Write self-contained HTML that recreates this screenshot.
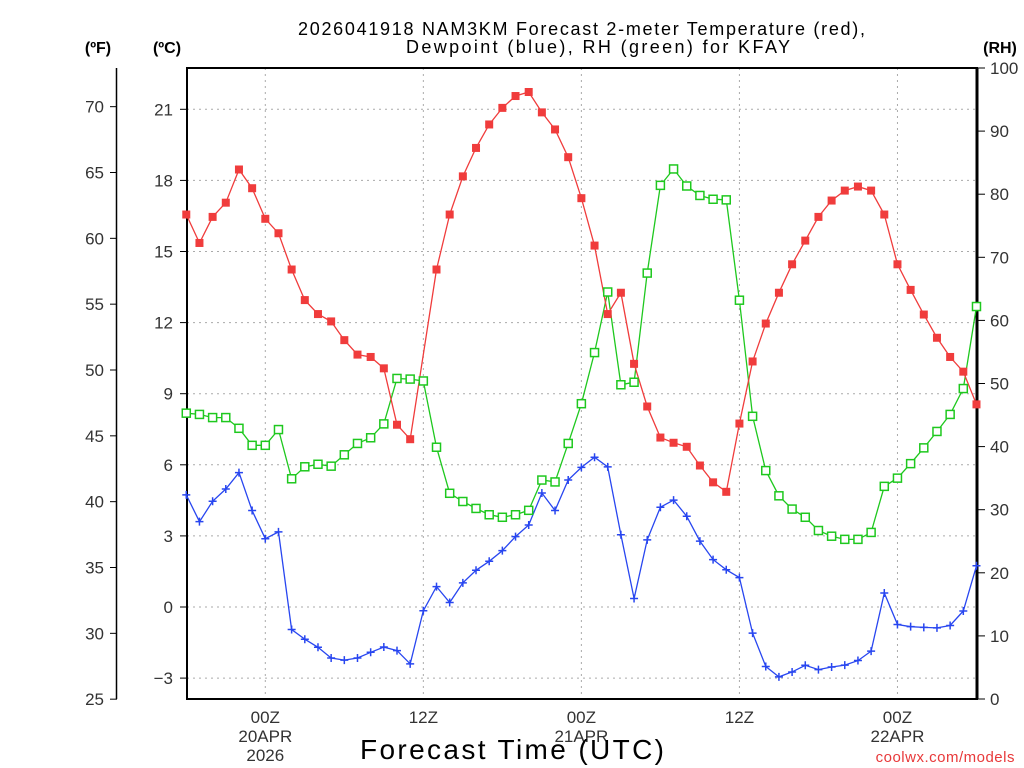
<!DOCTYPE html>
<html><head><meta charset="utf-8"><style>
html,body{margin:0;padding:0;background:#fff;}
svg{display:block;font-family:"Liberation Sans",sans-serif;}
</style></head><body>
<svg id="chart" width="1024" height="768" viewBox="0 0 1024 768" xmlns="http://www.w3.org/2000/svg">
<rect width="1024" height="768" fill="#fff"/>
<g id="grid"></g>
<g id="axes"></g>
<g id="series"></g>
<text x="298" y="35" font-size="18" textLength="567" lengthAdjust="spacing">2026041918 NAM3KM Forecast 2-meter Temperature (red),</text>
<text x="406" y="53" font-size="18" textLength="384" lengthAdjust="spacing">Dewpoint (blue), RH (green) for KFAY</text>
<text x="98" y="53" text-anchor="middle" font-size="16" font-weight="bold">(ºF)</text>
<text x="167" y="53" text-anchor="middle" font-size="16" font-weight="bold">(ºC)</text>
<text x="1000" y="53" text-anchor="middle" font-size="16" font-weight="bold">(RH)</text>
<text x="360" y="759" font-size="28" textLength="304" lengthAdjust="spacing">Forecast Time (UTC)</text>
<text x="1015" y="762" text-anchor="end" font-size="15" fill="#e8393a" letter-spacing="0.5">coolwx.com/models</text>
</svg>
<script>
const hours = [-6,-5,-4,-3,-2,-1,0,1,2,3,4,5,6,7,8,9,10,11,12,13,14,15,16,17,18,19,20,21,22,23,24,25,26,27,28,29,30,31,32,33,34,35,36,37,38,39,40,41,42,43,44,45,46,47,48,49,50,51,52,53,54];
const tempC = [16.56,15.36,16.46,17.06,18.46,17.67,16.38,15.77,14.24,12.95,12.36,12.05,11.26,10.65,10.55,10.07,7.69,7.08,null,14.24,16.56,18.17,19.37,20.36,21.06,21.56,21.73,20.87,20.15,18.98,17.25,15.25,12.36,13.26,10.26,8.46,7.15,6.93,6.76,5.97,5.26,4.86,7.74,10.36,11.96,13.26,14.46,15.46,16.46,17.15,17.57,17.74,17.57,16.56,14.46,13.38,12.34,11.36,10.55,9.93,8.55];
const dewC = [4.73,3.60,4.46,4.98,5.67,4.07,2.88,3.17,-0.95,-1.36,-1.70,-2.15,-2.24,-2.15,-1.91,-1.69,-1.84,-2.40,-0.16,0.86,0.19,1.02,1.55,1.93,2.38,2.97,3.46,4.81,4.07,5.36,5.89,6.32,5.91,3.05,0.36,2.83,4.21,4.51,3.83,2.78,2.00,1.57,1.24,-1.10,-2.51,-2.95,-2.74,-2.46,-2.64,-2.53,-2.45,-2.26,-1.86,0.59,-0.74,-0.83,-0.86,-0.88,-0.78,-0.17,1.74];
const rh = [45.3,45.1,44.6,44.6,42.9,40.2,40.2,42.7,34.9,36.8,37.2,36.9,38.7,40.5,41.4,43.6,50.8,50.7,50.4,39.9,32.6,31.3,30.2,29.2,28.8,29.2,29.9,34.7,34.4,40.5,46.8,54.9,64.5,49.8,50.2,67.5,81.4,84.0,81.3,79.8,79.2,79.1,63.2,44.8,36.2,32.2,30.1,28.8,26.7,25.8,25.3,25.3,26.4,33.7,35.0,37.3,39.8,42.4,45.1,49.2,62.2];
const cTicks = [-3,0,3,6,9,12,15,18,21];
const fTicks = [25,30,35,40,45,50,55,60,65,70];
const rhTicks = [0,10,20,30,40,50,60,70,80,90,100];
const xTickHours = [0,12,24,36,48];
const xTickLabels = [["00Z","20APR","2026"],["12Z"],["00Z","21APR"],["12Z"],["00Z","22APR"]];

const L=187,R=977,T=68,B=699;
const xs = h => 265.3 + h*13.17;
const yC = c => 607 - c*23.7;
const yF = f => yC((f-32)*5/9);
const yRH = r => B - r*(B-T)/100;
const NS="http://www.w3.org/2000/svg";
function mk(tag, attrs, parent){const e=document.createElementNS(NS,tag);for(const k in attrs)e.setAttribute(k,attrs[k]);parent.appendChild(e);return e;}
const grid=document.getElementById('grid'), axes=document.getElementById('axes'), series=document.getElementById('series');

cTicks.forEach(c=>{
  const y=yC(c);
  const g=mk('line',{x1:L,x2:R,y1:y,y2:y,stroke:'#aaa','stroke-width':1,'stroke-dasharray':'2,4'},grid);
  
  
  const t=mk('line',{x1:L-7,x2:L,y1:y,y2:y,stroke:'#000'},axes);
  
  
  const tx=mk('text',{x:173,y:y+6,'text-anchor':'end','font-size':17,fill:'#333'},axes);
  tx.textContent = c<0 ? '\u2212'+Math.abs(c) : String(c);
  
  
});
xTickHours.forEach((h,i)=>{
  const x=xs(h);
  const g=mk('line',{x1:x,x2:x,y1:T,y2:B,stroke:'#aaa','stroke-width':1,'stroke-dasharray':'2,4'},grid);
  
  
  xTickLabels[i].forEach((s,j)=>{
    const tx=mk('text',{x:x,y:723+j*19,'text-anchor':'middle','font-size':17,fill:'#333'},axes);
    tx.textContent=s;
    
    
  });
});
const fl=mk('line',{x1:116.5,x2:116.5,y1:T,y2:B,stroke:'#000','stroke-width':1.5},axes);


fTicks.forEach(f=>{
  const y=yF(f);
  const t=mk('line',{x1:110,x2:117,y1:y,y2:y,stroke:'#000'},axes);
  
  
  const tx=mk('text',{x:104,y:y+6,'text-anchor':'end','font-size':17,fill:'#333'},axes);
  tx.textContent=String(f);
  
  
});
rhTicks.forEach(r=>{
  const y=yRH(r);
  const t=mk('line',{x1:R,x2:R+8,y1:y,y2:y,stroke:'#000'},axes);
  
  
  const tx=mk('text',{x:990,y:y+6,'text-anchor':'start','font-size':17,fill:'#333'},axes);
  tx.textContent=String(r);
  
  
});
const frame=mk('rect',{x:L,y:T,width:R-L,height:B-T,fill:'none',stroke:'#000','stroke-width':2},axes);


const rax=mk('line',{x1:R,x2:R,y1:T,y2:B,stroke:'#000','stroke-width':3},axes);



function drawLine(vals, yf, color, name){
  const pts=[];
  vals.forEach((v,i)=>{ if(v!==null) pts.push(xs(hours[i]).toFixed(1)+','+yf(v).toFixed(1)); });
  const p=mk('polyline',{points:pts.join(' '),fill:'none',stroke:color,'stroke-width':1.3},series);
  
  
}
drawLine(rh,yRH,'#1ec81e','rh');
drawLine(dewC,yC,'#2846f0','dewpoint');
drawLine(tempC,yC,'#f03c3c','temperature');
rh.forEach((v,i)=>{
  const x=xs(hours[i]), y=yRH(v);
  const m=mk('rect',{x:x-4,y:y-4,width:8,height:8,fill:'#fff',stroke:'#1ec81e','stroke-width':1.5},series);
  
  
});
dewC.forEach((v,i)=>{
  const x=xs(hours[i]), y=yC(v);
  const m=mk('path',{d:`M${x-4},${y}H${x+4}M${x},${y-4}V${y+4}`,stroke:'#2846f0','stroke-width':1.5},series);
  
  
});
tempC.forEach((v,i)=>{
  if(v===null) return;
  const x=xs(hours[i]), y=yC(v);
  const m=mk('rect',{x:x-4,y:y-4,width:8,height:8,fill:'#f03c3c'},series);
  
  
});
</script>
</body></html>
